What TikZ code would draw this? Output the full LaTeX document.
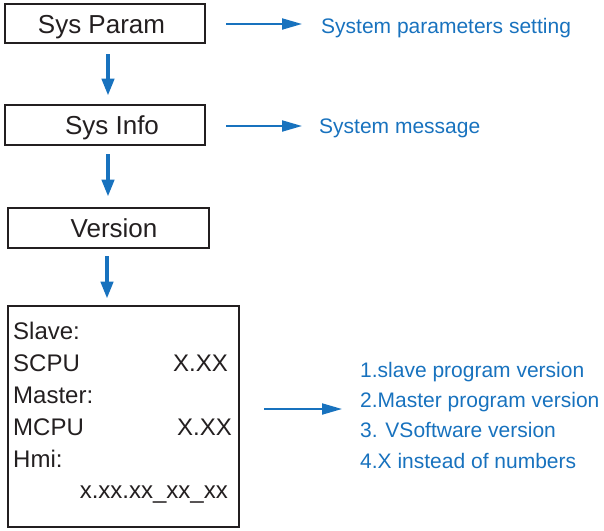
\documentclass[tikz,border=0pt]{standalone}
\usepackage{fontspec}
\setmainfont{Liberation Sans}
\usetikzlibrary{arrows.meta}
\definecolor{myblue}{RGB}{24,114,190}
\definecolor{boxgray}{RGB}{35,31,32}
\tikzset{
  menubox/.style={draw=boxgray, line width=2.6pt, inner sep=0pt, text height=19pt, text depth=0pt, font=\fontsize{26}{30}\selectfont, text=boxgray},
  downarrow/.style={draw=myblue, line width=4pt, -{Triangle[length=17pt,width=12pt]}},
  rightarrow/.style={draw=myblue, line width=2pt, -{Triangle[length=20pt,width=11pt]}},
  bluetext/.style={text=myblue, font=\fontsize{21}{24}\selectfont, inner sep=0pt, anchor=base west},
  boxtext/.style={text=boxgray, font=\fontsize{24}{28}\selectfont, inner sep=0pt},
}
\begin{document}
\begin{tikzpicture}[x=1pt,y=-1pt]
\useasboundingbox (0,0) rectangle (604,530);
% boxes
\node[menubox, minimum width=200pt, minimum height=39pt] (param) at (105,23.5) {Sys Param\hspace*{7pt}};
\node[menubox, minimum width=200pt, minimum height=40pt] (info) at (105,125) {\hspace*{14pt}Sys Info};
\node[menubox, minimum width=201pt, minimum height=40pt] (ver) at (108.5,228) {\hspace*{11pt}Version};
\node[draw=boxgray, line width=2.6pt, minimum width=231pt, minimum height=221pt, inner sep=0pt] (big) at (123.5,416.5) {};
% big box text
\node[boxtext, anchor=base west] (t1) at (13,339) {Slave:};
\node[boxtext, anchor=base west] (t2) at (13,371) {SCPU};
\node[boxtext, anchor=base east] (t2v) at (228,371) {X.XX};
\node[boxtext, anchor=base west] (t3) at (13,403) {Master:};
\node[boxtext, anchor=base west] (t4) at (13,435) {MCPU};
\node[boxtext, anchor=base east] (t4v) at (232,435) {X.XX};
\node[boxtext, anchor=base west] (t5) at (13,467) {Hmi:};
\node[boxtext, anchor=base east] (t6) at (228,498) {x.xx.xx\_xx\_xx};
% labels
\node[bluetext] (l1) at (321,33) {System parameters setting};
\node[bluetext] (l2) at (319,133) {System message};
\node[bluetext] (m1) at (360,377) {1.slave program version};
\node[bluetext] (m2) at (360,407) {2.Master program version};
\node[bluetext] (m3) at (360,437) {3. VSoftware version};
\node[bluetext] (m4) at (360,468) {4.X instead of numbers};
% down arrows
\draw[downarrow, shorten <=10pt, shorten >=8pt] ([xshift=3pt]param.south) -- ([xshift=3pt]info.north);
\draw[downarrow, shorten <=8pt, shorten >=10pt] ([xshift=3pt]info.south) -- ([xshift=-0.5pt]ver.north);
\draw[downarrow, shorten <=7pt, shorten >=6pt] ([xshift=-1.5pt]ver.south) -- ([xshift=-16.5pt]big.north);
% right arrows
\coordinate (a1) at (225,24);
\coordinate (a2) at (302,24);
\draw[rightarrow] (param.east |- a1) ++(20,0) -- (a2);
\coordinate (b2) at (302,126);
\draw[rightarrow] (info.east |- b2) ++(20,0) -- (b2);
\coordinate (c1) at (263,409);
\coordinate (c2) at (342,409);
\draw[rightarrow] (big.east |- c1) ++(24,0) -- (c2);
\end{tikzpicture}
\end{document}
